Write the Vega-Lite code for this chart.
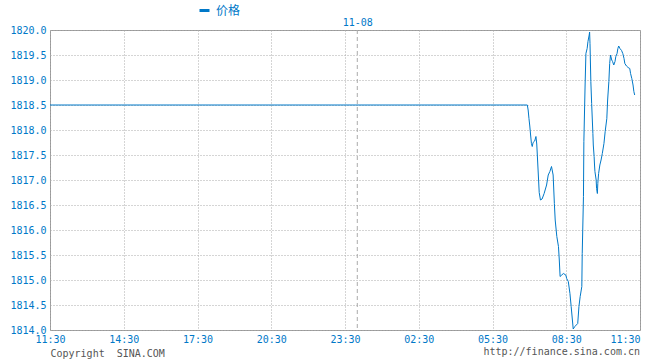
{
  "$schema": "https://vega.github.io/schema/vega-lite/v6.json",
  "width": 590,
  "height": 300,
  "autosize": {"type": "none"},
  "padding": {"left": 50, "top": 30, "right": 20, "bottom": 30},
  "background": "white",
  "config": {
    "view": {"stroke": "#999999", "strokeWidth": 1},
    "font": "DejaVu Sans Mono"
  },
  "title": {
    "text": "http://finance.sina.com.cn",
    "orient": "bottom",
    "anchor": "end",
    "font": "DejaVu Sans Mono",
    "fontSize": 10,
    "fontWeight": "normal",
    "color": "#555555",
    "offset": -11
  },
  "datasets": {
    "price": [
      {"t": "2023-11-07T11:30:00Z", "price": 1818.5},
      {"t": "2023-11-08T06:55:00Z", "price": 1818.5},
      {"t": "2023-11-08T06:57:00Z", "price": 1818.4},
      {"t": "2023-11-08T06:59:00Z", "price": 1818.23},
      {"t": "2023-11-08T07:01:00Z", "price": 1818.08},
      {"t": "2023-11-08T07:03:00Z", "price": 1817.9},
      {"t": "2023-11-08T07:05:00Z", "price": 1817.73},
      {"t": "2023-11-08T07:07:00Z", "price": 1817.67},
      {"t": "2023-11-08T07:09:00Z", "price": 1817.75},
      {"t": "2023-11-08T07:13:00Z", "price": 1817.78},
      {"t": "2023-11-08T07:16:00Z", "price": 1817.87},
      {"t": "2023-11-08T07:18:00Z", "price": 1817.72},
      {"t": "2023-11-08T07:20:00Z", "price": 1817.4},
      {"t": "2023-11-08T07:22:00Z", "price": 1817.08},
      {"t": "2023-11-08T07:24:00Z", "price": 1816.75},
      {"t": "2023-11-08T07:27:00Z", "price": 1816.6},
      {"t": "2023-11-08T07:31:00Z", "price": 1816.62},
      {"t": "2023-11-08T07:36:00Z", "price": 1816.73},
      {"t": "2023-11-08T07:42:00Z", "price": 1816.9},
      {"t": "2023-11-08T07:46:00Z", "price": 1817.1},
      {"t": "2023-11-08T07:50:00Z", "price": 1817.17},
      {"t": "2023-11-08T07:54:00Z", "price": 1817.27},
      {"t": "2023-11-08T07:58:00Z", "price": 1817.1},
      {"t": "2023-11-08T08:01:00Z", "price": 1816.53},
      {"t": "2023-11-08T08:03:00Z", "price": 1816.2},
      {"t": "2023-11-08T08:07:00Z", "price": 1815.87},
      {"t": "2023-11-08T08:11:00Z", "price": 1815.67},
      {"t": "2023-11-08T08:13:00Z", "price": 1815.4},
      {"t": "2023-11-08T08:15:00Z", "price": 1815.07},
      {"t": "2023-11-08T08:19:00Z", "price": 1815.1},
      {"t": "2023-11-08T08:23:00Z", "price": 1815.13},
      {"t": "2023-11-08T08:29:00Z", "price": 1815.1},
      {"t": "2023-11-08T08:31:00Z", "price": 1815.03},
      {"t": "2023-11-08T08:35:00Z", "price": 1814.97},
      {"t": "2023-11-08T08:39:00Z", "price": 1814.73},
      {"t": "2023-11-08T08:42:00Z", "price": 1814.47},
      {"t": "2023-11-08T08:45:00Z", "price": 1814.2},
      {"t": "2023-11-08T08:47:00Z", "price": 1814.02},
      {"t": "2023-11-08T08:51:00Z", "price": 1814.07},
      {"t": "2023-11-08T08:58:00Z", "price": 1814.13},
      {"t": "2023-11-08T09:01:00Z", "price": 1814.47},
      {"t": "2023-11-08T09:04:00Z", "price": 1814.67},
      {"t": "2023-11-08T09:08:00Z", "price": 1814.87},
      {"t": "2023-11-08T09:09:00Z", "price": 1815.53},
      {"t": "2023-11-08T09:12:00Z", "price": 1816.67},
      {"t": "2023-11-08T09:13:00Z", "price": 1817.77},
      {"t": "2023-11-08T09:16:00Z", "price": 1818.9},
      {"t": "2023-11-08T09:18:00Z", "price": 1819.53},
      {"t": "2023-11-08T09:21:00Z", "price": 1819.63},
      {"t": "2023-11-08T09:23:00Z", "price": 1819.77},
      {"t": "2023-11-08T09:26:00Z", "price": 1819.9},
      {"t": "2023-11-08T09:27:00Z", "price": 1819.96},
      {"t": "2023-11-08T09:28:00Z", "price": 1819.73},
      {"t": "2023-11-08T09:30:00Z", "price": 1818.97},
      {"t": "2023-11-08T09:32:00Z", "price": 1818.53},
      {"t": "2023-11-08T09:35:00Z", "price": 1817.93},
      {"t": "2023-11-08T09:36:00Z", "price": 1817.7},
      {"t": "2023-11-08T09:38:00Z", "price": 1817.47},
      {"t": "2023-11-08T09:39:00Z", "price": 1817.3},
      {"t": "2023-11-08T09:40:00Z", "price": 1817.17},
      {"t": "2023-11-08T09:43:00Z", "price": 1817.0},
      {"t": "2023-11-08T09:44:00Z", "price": 1816.83},
      {"t": "2023-11-08T09:46:00Z", "price": 1816.73},
      {"t": "2023-11-08T09:47:00Z", "price": 1816.93},
      {"t": "2023-11-08T09:49:00Z", "price": 1817.13},
      {"t": "2023-11-08T09:52:00Z", "price": 1817.3},
      {"t": "2023-11-08T09:55:00Z", "price": 1817.4},
      {"t": "2023-11-08T09:58:00Z", "price": 1817.53},
      {"t": "2023-11-08T10:02:00Z", "price": 1817.73},
      {"t": "2023-11-08T10:05:00Z", "price": 1817.97},
      {"t": "2023-11-08T10:09:00Z", "price": 1818.23},
      {"t": "2023-11-08T10:11:00Z", "price": 1818.6},
      {"t": "2023-11-08T10:14:00Z", "price": 1818.97},
      {"t": "2023-11-08T10:16:00Z", "price": 1819.33},
      {"t": "2023-11-08T10:18:00Z", "price": 1819.5},
      {"t": "2023-11-08T10:21:00Z", "price": 1819.4},
      {"t": "2023-11-08T10:23:00Z", "price": 1819.37},
      {"t": "2023-11-08T10:26:00Z", "price": 1819.3},
      {"t": "2023-11-08T10:29:00Z", "price": 1819.37},
      {"t": "2023-11-08T10:31:00Z", "price": 1819.47},
      {"t": "2023-11-08T10:34:00Z", "price": 1819.53},
      {"t": "2023-11-08T10:36:00Z", "price": 1819.63},
      {"t": "2023-11-08T10:38:00Z", "price": 1819.68},
      {"t": "2023-11-08T10:41:00Z", "price": 1819.63},
      {"t": "2023-11-08T10:45:00Z", "price": 1819.59},
      {"t": "2023-11-08T10:48:00Z", "price": 1819.53},
      {"t": "2023-11-08T10:51:00Z", "price": 1819.43},
      {"t": "2023-11-08T10:53:00Z", "price": 1819.33},
      {"t": "2023-11-08T10:57:00Z", "price": 1819.28},
      {"t": "2023-11-08T11:01:00Z", "price": 1819.25},
      {"t": "2023-11-08T11:05:00Z", "price": 1819.23},
      {"t": "2023-11-08T11:07:00Z", "price": 1819.13},
      {"t": "2023-11-08T11:10:00Z", "price": 1819.03},
      {"t": "2023-11-08T11:13:00Z", "price": 1818.9},
      {"t": "2023-11-08T11:15:00Z", "price": 1818.77},
      {"t": "2023-11-08T11:17:00Z", "price": 1818.7}
    ],
    "dayMarks": [
      {"t": "2023-11-08T00:00:00Z"}
    ]
  },
  "layer": [
    {
      "data": {"name": "price"},
      "mark": {"type": "line", "strokeWidth": 1, "interpolate": "linear"},
      "encoding": {
        "x": {
          "field": "t",
          "type": "temporal",
          "scale": {
            "type": "utc",
            "nice": false,
            "domain": [
              {"year": 2023, "month": 11, "date": 7, "hours": 11, "minutes": 30, "utc": true},
              {"year": 2023, "month": 11, "date": 8, "hours": 11, "minutes": 30, "utc": true}
            ]
          },
          "axis": {
            "orient": "bottom",
            "values": [
              {"year": 2023, "month": 11, "date": 7, "hours": 11, "minutes": 30, "utc": true},
              {"year": 2023, "month": 11, "date": 7, "hours": 14, "minutes": 30, "utc": true},
              {"year": 2023, "month": 11, "date": 7, "hours": 17, "minutes": 30, "utc": true},
              {"year": 2023, "month": 11, "date": 7, "hours": 20, "minutes": 30, "utc": true},
              {"year": 2023, "month": 11, "date": 7, "hours": 23, "minutes": 30, "utc": true},
              {"year": 2023, "month": 11, "date": 8, "hours": 2, "minutes": 30, "utc": true},
              {"year": 2023, "month": 11, "date": 8, "hours": 5, "minutes": 30, "utc": true},
              {"year": 2023, "month": 11, "date": 8, "hours": 8, "minutes": 30, "utc": true},
              {"year": 2023, "month": 11, "date": 8, "hours": 11, "minutes": 30, "utc": true}
            ],
            "format": "%H:%M",
            "labelFont": "DejaVu Sans Mono",
            "labelFontSize": 10,
            "labelColor": "#0078c8",
            "labelPadding": 4,
            "labelFlush": false,
            "labelOverlap": false,
            "labelBound": false,
            "labelAlign": {
              "condition": {"test": "datum.value >= utc(2023, 10, 8, 11, 0)", "value": "right"},
              "value": "center"
            },
            "ticks": false,
            "domain": false,
            "grid": true,
            "gridColor": "#aaaaaa",
            "gridDash": [1, 2],
            "gridWidth": 1,
            "title": "Copyright\u00a0 SINA.COM",
            "titleFont": "DejaVu Sans Mono",
            "titleFontSize": 10,
            "titleFontWeight": "normal",
            "titleColor": "#555555",
            "titleAnchor": "start",
            "titleAlign": "left",
            "titleBaseline": "middle",
            "titleX": 0,
            "titleY": 23
          }
        },
        "y": {
          "field": "price",
          "type": "quantitative",
          "scale": {"domain": [1814, 1820], "nice": false, "zero": false},
          "axis": {
            "values": [1814, 1814.5, 1815, 1815.5, 1816, 1816.5, 1817, 1817.5, 1818, 1818.5, 1819, 1819.5, 1820],
            "format": ".1f",
            "labelFont": "DejaVu Sans Mono",
            "labelFontSize": 10,
            "labelColor": "#0078c8",
            "labelPadding": 4,
            "labelFlush": false,
            "labelOverlap": false,
            "ticks": false,
            "domain": false,
            "grid": true,
            "gridColor": "#aaaaaa",
            "gridDash": [1, 2],
            "gridWidth": 1,
            "title": null
          }
        },
        "color": {
          "datum": "价格",
          "type": "nominal",
          "scale": {"range": ["#0078c8"]},
          "legend": {
            "orient": "none",
            "legendX": 148,
            "legendY": -26,
            "title": null,
            "direction": "horizontal",
            "padding": 0,
            "symbolType": "stroke",
            "symbolSize": 100,
            "symbolStrokeWidth": 3,
            "labelFont": "Noto Sans CJK SC",
            "labelFontSize": 12,
            "labelColor": "#0078c8",
            "labelOffset": 5
          }
        }
      }
    },
    {
      "data": {"name": "dayMarks"},
      "mark": {"type": "rule", "color": "#aaaaaa", "strokeDash": [4, 3], "strokeWidth": 1},
      "encoding": {
        "x": {
          "field": "t",
          "type": "temporal",
          "axis": {
            "orient": "top",
            "values": [
              {"year": 2023, "month": 11, "date": 8, "hours": 0, "minutes": 0, "utc": true}
            ],
            "format": "%m-%d",
            "labelFont": "DejaVu Sans Mono",
            "labelFontSize": 10,
            "labelColor": "#0078c8",
            "labelPadding": 3,
            "ticks": false,
            "domain": false,
            "grid": false,
            "title": null
          }
        }
      }
    }
  ],
  "resolve": {"axis": {"x": "independent"}}
}
